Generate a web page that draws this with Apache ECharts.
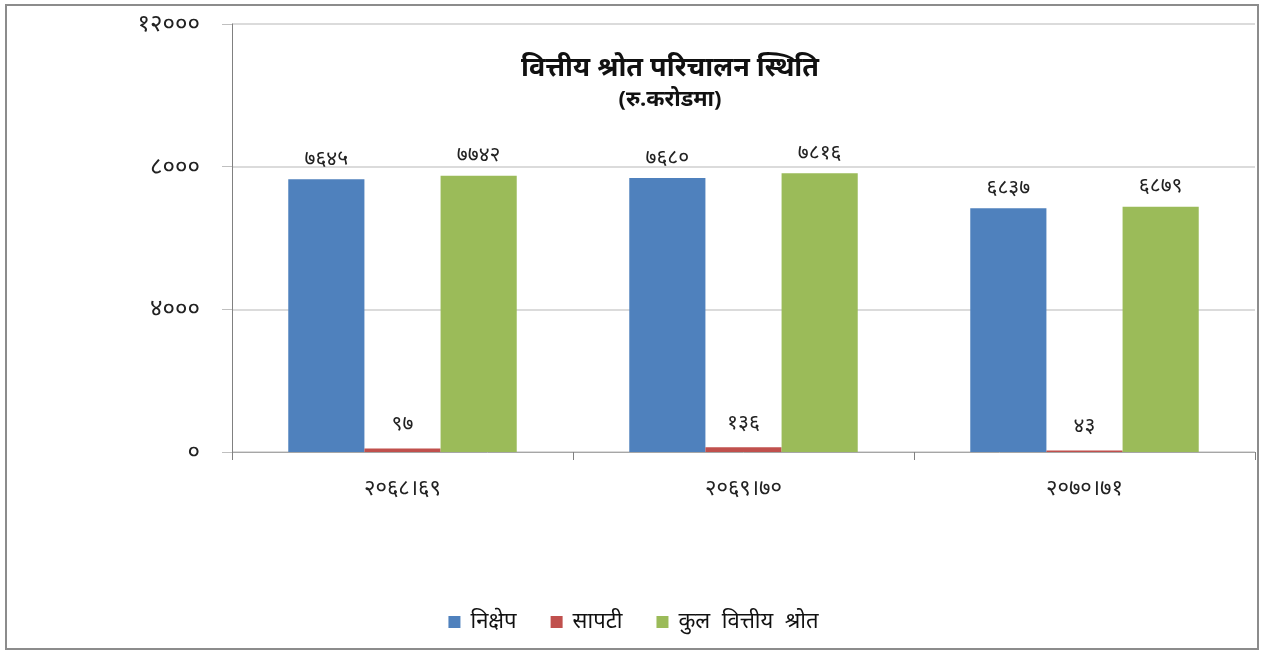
<!DOCTYPE html>
<html>
<head>
<meta charset="utf-8">
<script src="https://cdn.jsdelivr.net/npm/echarts@6/dist/echarts.min.js"></script>
<style>
  html, body { margin: 0; padding: 0; background: #fff; }
  #frame { position: absolute; left: 5px; top: 4px; width: 1250px; height: 642px; border: 2px solid #8c8c8c; }
  #chart { width: 1267px; height: 652px; }
</style>
</head>
<body>
<div id="frame"></div>
<div id="chart"></div>
<script>
const categories = ['२०६८।६९', '२०६९।७०', '२०७०।७१'];
const seriesNames = ['निक्षेप', 'सापटी', 'कुल  वित्तीय  श्रोत'];
const deposit = [7645, 7680, 6837];
const borrowing = [97, 136, 43];
const totalSource = [7742, 7816, 6879];
const yTicks = [0, 4000, 8000, 12000];

const digits = '०१२३४५६७८९';
const toNepali = (n) => String(n).replace(/[0-9]/g, (d) => digits[+d]);

const font = '"Noto Sans", "Noto Sans CJK SC", sans-serif';
const colors = ['#4f81bd', '#c0504d', '#9bbb59'];

const chart = echarts.init(document.getElementById('chart'));

const label = {
  show: true,
  position: 'top',
  distance: 10,
  color: '#222',
  fontSize: 21,
  fontFamily: font,
  formatter: (p) => toNepali(p.value)
};

chart.setOption({
  animation: false,
  title: {
    text: 'वित्तीय श्रोत परिचालन स्थिति',
    subtext: '(रु.करोडमा)',
    left: 665,
    top: 50,
    textAlign: 'center',
    itemGap: 7,
    textStyle: { fontSize: 27, fontWeight: 'bold', color: '#111', fontFamily: font },
    subtextStyle: { fontSize: 22, fontWeight: 'bold', color: '#111', fontFamily: font }
  },
  legend: {
    bottom: 14,
    left: 'center',
    itemWidth: 12,
    itemHeight: 12,
    itemGap: 34,
    icon: 'rect',
    textStyle: { fontSize: 22, color: '#111', fontFamily: font, padding: [0, 0, 0, 5] },
    data: seriesNames
  },
  grid: { left: 232, right: 12, top: 24, bottom: 200 },
  xAxis: {
    type: 'category',
    data: categories,
    axisLine: { lineStyle: { color: '#a6a6a6', width: 1 } },
    axisTick: { show: true, length: 8, lineStyle: { color: '#808080' } },
    axisLabel: { fontSize: 22, color: '#222', margin: 26, fontFamily: font }
  },
  yAxis: {
    type: 'value',
    min: 0,
    max: 12000,
    interval: 4000,
    axisLine: { show: true, lineStyle: { color: '#808080' } },
    axisTick: { show: true, length: 10, inside: false, lineStyle: { color: '#bfbfbf' } },
    splitLine: { lineStyle: { color: '#cfcfcf', width: 1.5 } },
    axisLabel: {
      fontSize: 24,
      color: '#222',
      margin: 32,
      fontFamily: font,
      formatter: (v) => yTicks.includes(v) ? toNepali(v) : ''
    }
  },
  series: [
    { name: seriesNames[0], type: 'bar', data: deposit, itemStyle: { color: colors[0] }, barGap: '0%', barCategoryGap: '33%', label },
    { name: seriesNames[1], type: 'bar', data: borrowing, itemStyle: { color: colors[1] }, label: Object.assign({}, label, { distance: 14 }) },
    { name: seriesNames[2], type: 'bar', data: totalSource, itemStyle: { color: colors[2] }, label }
  ]
});
</script>
</body>
</html>
